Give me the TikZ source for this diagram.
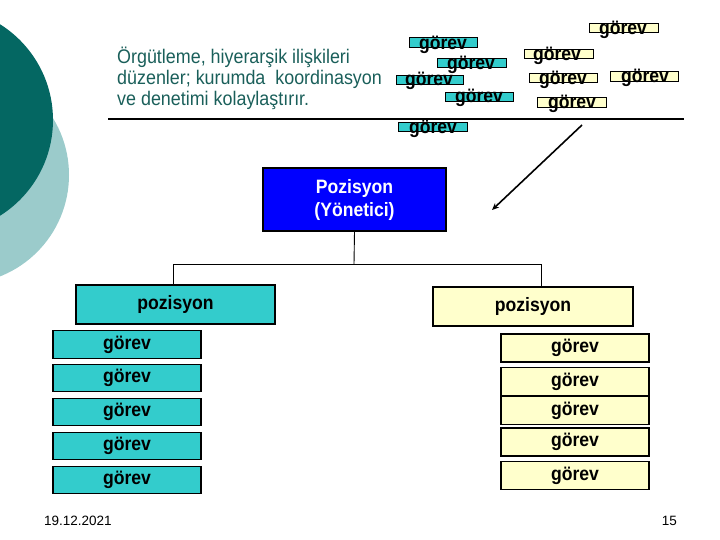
\documentclass[tikz,border=0pt]{standalone}
\usepackage{fontspec}
\setmainfont{Liberation Sans}
\usetikzlibrary{arrows.meta}
\definecolor{darkteal}{HTML}{046762}
\definecolor{lightteal}{HTML}{9BCBCB}
\definecolor{txtteal}{HTML}{1A5F5A}
\definecolor{cyanbox}{HTML}{33CCCC}
\definecolor{yelbox}{HTML}{FFFFCC}
\definecolor{bluebox}{HTML}{0000FF}
\newcommand{\vsc}[1]{\scalebox{1}[1.1]{#1}}
\tikzset{
  lbl/.style={font=\fontsize{17.6}{20}\selectfont\bfseries, text=black, inner sep=0pt},
  smallc/.style={draw=black, line width=1pt, fill=cyanbox},
  smally/.style={draw=black, line width=1pt, fill=yelbox},
  bigbox/.style={draw=black, line width=1.2pt, minimum height=0pt, inner sep=0pt, font=\fontsize{17.6}{20}\selectfont\bfseries},
  conn/.style={draw=black, line width=0.9pt},
  head/.style={anchor=base west, text=txtteal, font=\fontsize{17.9}{21}\selectfont, inner sep=0pt},
}
\begin{document}
\begin{tikzpicture}[x=1pt,y=-1pt]
\useasboundingbox (0,0) rectangle (720,540);
% decorative circles
\fill[lightteal] (-40,175) circle (109);
\fill[darkteal] (-60,120) circle (113);
% heading text
\node[head] (t1) at (117,63.5) {\vsc{Örgütleme, hiyerarşik ilişkileri}};
\node[head] (t2) at (117,85) {\vsc{düzenler; kurumda\ \ koordinasyon}};
\node[head] (t3) at (117,106) {\vsc{ve denetimi kolaylaştırır.}};
% top rule
\coordinate (rl) at (108,119.5);
\coordinate (rr) at (684,119.5);
\draw[line width=2pt] (rl) -- (rr);
% small cyan görev boxes
\draw[smallc] (409,38) rectangle (477,48);
\node[lbl] (c1) at (443,44.5) {\vsc{görev}};
\draw[smallc] (437,59) rectangle (506,68);
\node[lbl] (c2) at (471,64.5) {\vsc{görev}};
\draw[smallc] (396,76) rectangle (463,85);
\node[lbl] (c3) at (429,80.5) {\vsc{görev}};
\draw[smallc] (445,93) rectangle (513,102);
\node[lbl] (c4) at (479,97.5) {\vsc{görev}};
\draw[smallc] (398,123) rectangle (467,132);
\node[lbl] (c5) at (433,128.5) {\vsc{görev}};
% small yellow görev boxes
\draw[smally] (589,24) rectangle (658,33);
\node[lbl] (y1) at (623,29.5) {\vsc{görev}};
\draw[smally] (524,50) rectangle (593,59);
\node[lbl] (y2) at (557,55.5) {\vsc{görev}};
\draw[smally] (529,74) rectangle (597,83);
\node[lbl] (y3) at (563,79.5) {\vsc{görev}};
\draw[smally] (610,72) rectangle (678,82);
\node[lbl] (y4) at (645,77.5) {\vsc{görev}};
\draw[smally] (537,98) rectangle (606,108);
\node[lbl] (y5) at (572,103.5) {\vsc{görev}};
% arrow
\coordinate (as) at (582,125);
\coordinate (ae) at (492,210);
\draw[line width=1.6pt, -{Stealth[length=7pt,width=6pt]}] (as) -- (ae);
% manager box
\node[bigbox, fill=bluebox, text=white, minimum width=183pt, minimum height=63pt, align=center, font=\fontsize{17.6}{23}\selectfont\bfseries] (mgr) at (354.5,199.5) {\vsc{Pozisyon}\\\vsc{(Yönetici)}};
% tree connectors
\coordinate (jm) at (354,264);
\coordinate (jl) at (173,264);
\coordinate (jr) at (541,264);
\node[bigbox, fill=cyanbox, minimum width=199pt, minimum height=39pt] (pl) at (175.5,304.5) {\vsc{pozisyon}};
\node[bigbox, fill=yelbox, minimum width=200pt, minimum height=39pt] (pr) at (533,306.5) {\vsc{pozisyon}};
\draw[conn] (mgr.south) -- (jm);
\draw[conn] (jl) -- (jr);
\draw[conn] (jl) -- (jl |- pl.north);
\draw[conn] (jr) -- (jr |- pr.north);
% left görev column
\foreach \i/\y in {1/344.5, 2/378, 3/412, 4/446, 5/480} {
  \node[bigbox, fill=cyanbox, minimum width=148pt, minimum height=27.5pt] (lg\i) at (127,\y) {\vsc{görev}};
}
% right görev column
\foreach \i/\y in {1/348, 2/381.5, 3/410.5, 4/442, 5/475.5} {
  \node[bigbox, fill=yelbox, minimum width=148pt, minimum height=28pt] (rg\i) at (575,\y) {\vsc{görev}};
}
% footer
\node[anchor=base west, font=\fontsize{13.5}{16}\selectfont, inner sep=0pt] (date) at (44,525) {19.12.2021};
\node[anchor=base east, font=\fontsize{13.5}{16}\selectfont, inner sep=0pt] (pg) at (677,525) {15};
\end{tikzpicture}
\end{document}
